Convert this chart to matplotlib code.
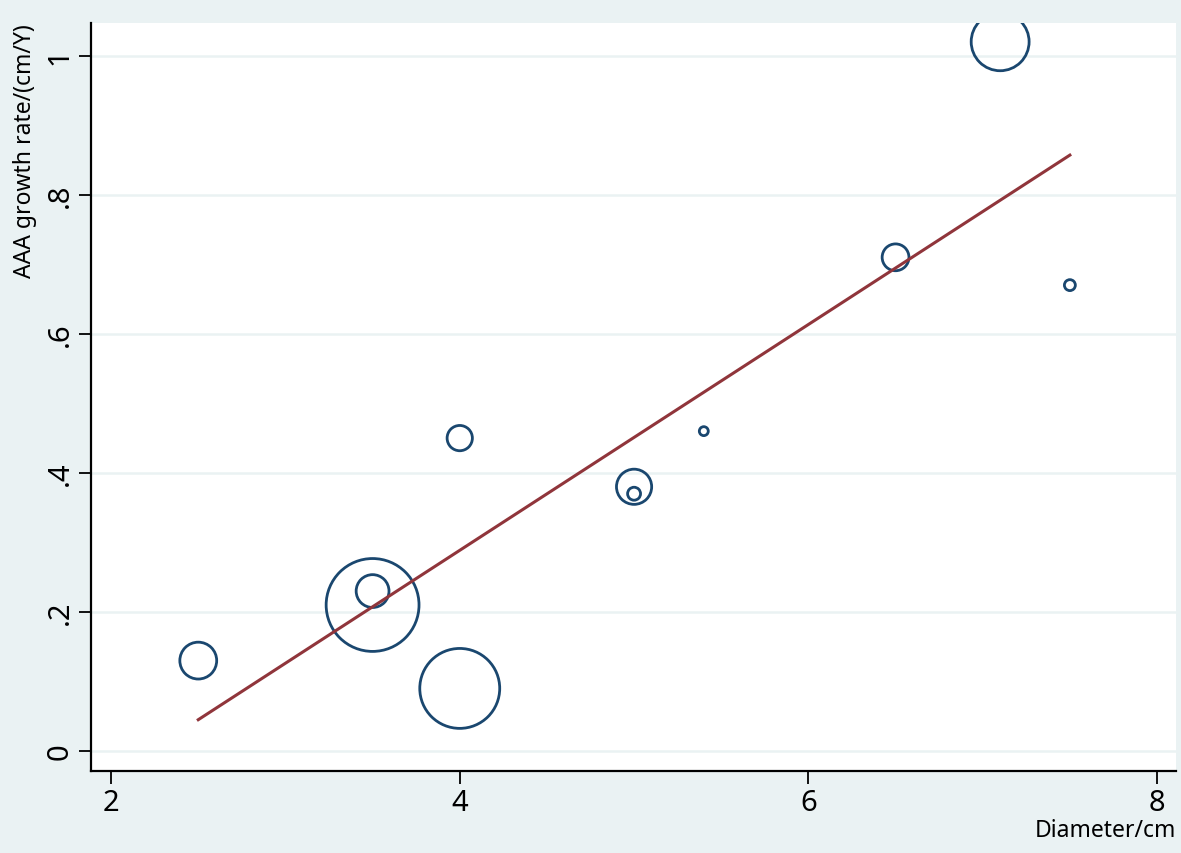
import numpy as np
import matplotlib.pyplot as plt

# Data (diameter, growth rate, relative study weight)
diameter = [2.5, 3.5, 3.5, 4.0, 4.0, 5.0, 5.0, 5.4, 6.5, 7.1, 7.5]
growth_rate = [0.13, 0.21, 0.23, 0.09, 0.45, 0.38, 0.37, 0.46, 0.71, 1.02, 0.67]
weight = [34, 216, 27, 160, 16, 31, 4.2, 2, 18, 84, 3]

# Fitted line
fit_intercept = -0.361
fit_slope = 0.1624

x_ticks = [2, 4, 6, 8]
x_tick_labels = ["2", "4", "6", "8"]
y_ticks = [0, 0.2, 0.4, 0.6, 0.8, 1.0]
y_tick_labels = ["0", ".2", ".4", ".6", ".8", "1"]

bg = "#eaf2f3"
navy = "#1a476f"
maroon = "#90353b"

plt.rcParams["font.family"] = ["Noto Sans", "DejaVu Sans"]

fig = plt.figure(figsize=(11.81, 8.54), dpi=100, facecolor=bg)
ax = fig.add_axes([0.0771, 0.0960, 0.9187, 0.8759])
ax.set_facecolor("white")

# Bubbles
ax.scatter(
    diameter,
    growth_rate,
    s=np.array(weight) * 20.7,
    facecolors="none",
    edgecolors=navy,
    linewidths=2.0,
    zorder=3,
)

# Fitted line over the range of the data
xs = np.array([min(diameter), max(diameter)])
ax.plot(xs, fit_intercept + fit_slope * xs, color=maroon, linewidth=2.2, zorder=4)

ax.set_xlim(1.885, 8.109)
ax.set_ylim(-0.0288, 1.047)

ax.set_xticks(x_ticks)
ax.set_xticklabels(x_tick_labels, fontsize=21)
ax.set_yticks(y_ticks)
ax.set_yticklabels(y_tick_labels, fontsize=21, rotation=90, va="center")
ax.tick_params(axis="both", direction="out", length=9, width=1.3, color="black", pad=3)

ax.grid(axis="y", color=bg, linewidth=1.8, zorder=0)
ax.set_axisbelow(True)

for side in ["top", "right"]:
    ax.spines[side].set_visible(False)
for side in ["left", "bottom"]:
    ax.spines[side].set_linewidth(1.6)

ax.set_xlabel("Diameter/cm", fontsize=16.5, loc="right", labelpad=1)
ax.set_ylabel("AAA growth rate/(cm/Y)", fontsize=16.5, loc="top", labelpad=6)

plt.savefig("out.png", dpi=100, facecolor=bg)
